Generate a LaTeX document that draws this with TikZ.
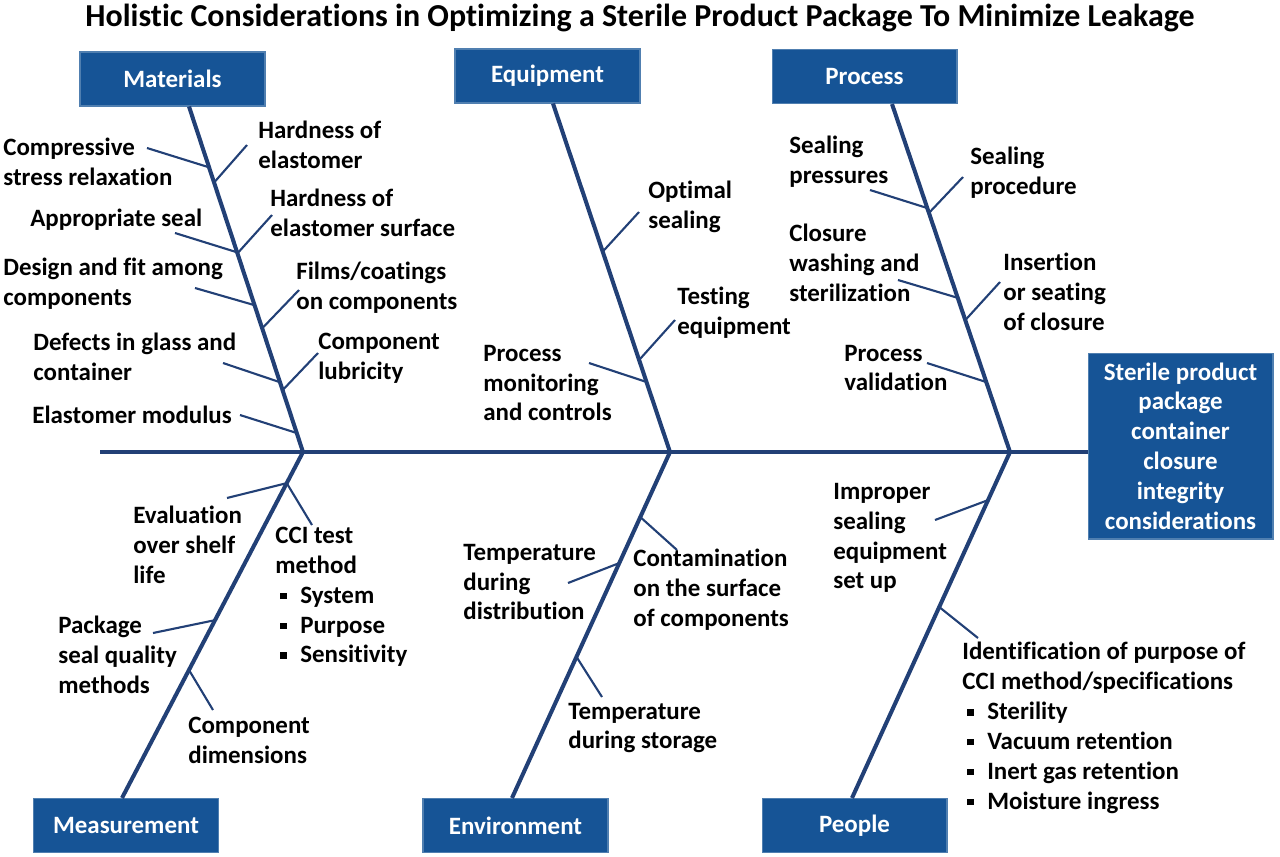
\documentclass[tikz,border=0pt]{standalone}
\usepackage{fontspec}
\setmainfont[Ligatures=NoCommon]{Carlito}
\usetikzlibrary{calc}
\definecolor{boxblue}{RGB}{22,84,150}
\definecolor{bonenavy}{RGB}{34,64,118}
\newcommand{\sqb}{\hspace*{2.8pt}\rule[2.4pt]{3.6pt}{3.6pt}\hspace*{7.8pt}}

\begin{document}
\begin{tikzpicture}[x=0.02cm,y=-0.02cm,
		every node/.style={font=\bfseries\fontsize{14.2}{17}\selectfont},
		catbox/.style={draw=boxblue!75!white, line width=0.6pt, fill=boxblue, text=white,
			minimum width=3.7cm, minimum height=1.08cm, inner sep=0pt},
		cause/.style={anchor=west, align=left, inner sep=0pt},
		bone/.style={draw=bonenavy, line width=2.3pt},
		twig/.style={draw=bonenavy, line width=1.2pt}]
		\useasboundingbox (0,0) rectangle (1280,856);

		% Заголовок
		\node (title) at (640,18) {\fontsize{18.2}{21}\selectfont Holistic Considerations in Optimizing a Sterile Product Package To Minimize Leakage};

		% Категории
		\node[catbox] (mat) at (172.5,79) {Materials};
		\node[catbox] (equ) at (547.5,76) {Equipment};
		\node[catbox] (pro) at (864.5,76.5) {Process};
		\node[catbox] (mea) at (126,825.5) {Measurement};
		\node[catbox] (env) at (515.5,825.5) {Environment};
		\node[catbox] (peo) at (854.5,825.5) {People};
		\node[catbox, minimum height=3.72cm, align=center] (goal) at (1180.5,446)
			{Sterile product\\package\\container\\closure\\integrity\\considerations};

		% Хребет
		\coordinate (tail) at (100,452);
		\draw[bone] (tail) -- (tail -| goal.west);

		% Кости
		\coordinate (jm) at (303,452);
		\coordinate (je) at (670,452);
		\coordinate (jp) at (1010,452);
		\coordinate (mtop) at ($(mat.south)+(16.5,0)$);
		\coordinate (etop) at ($(equ.south)+(5.5,0)$);
		\coordinate (ptop) at ($(pro.south)+(27.5,0)$);
		\coordinate (sbot) at ($(mea.north)+(-4,0)$);
		\coordinate (vbot) at ($(env.north)+(-3.5,0)$);
		\coordinate (obot) at ($(peo.north)+(-2.5,0)$);
		\draw[bone] (mtop) -- (jm);
		\draw[bone] (etop) -- (je);
		\draw[bone] (ptop) -- (jp);
		\draw[bone] (jm) -- (sbot);
		\draw[bone] (je) -- (vbot);
		\draw[bone] (jp) -- (obot);

		% Веточки
		\foreach \n/\px/\py/\t in {m1/147/148/0.176, m2/247/145/0.220, m3/175/233/0.422,
				m4/272/215/0.425, m5/195/288/0.575, m6/299/290/0.642, m7/223/363/0.798,
				m8/318/353/0.821, m9/240/415/0.945} {
			\coordinate (\n) at (\px,\py);
			\draw[twig] (\n) -- ($(mtop)!\t!(jm)$);
		}
		\foreach \n/\px/\py/\t in {e1/639/212/0.425, e2/675/320/0.736, e3/589/363/0.799} {
			\coordinate (\n) at (\px,\py);
			\draw[twig] (\n) -- ($(etop)!\t!(je)$);
		}
		\foreach \n/\px/\py/\t in {p1/870/190/0.299, p2/963/177/0.313, p3/898/280/0.557,
				p4/1000/282/0.621, p5/927/363/0.799} {
			\coordinate (\n) at (\px,\py);
			\draw[twig] (\n) -- ($(ptop)!\t!(jp)$);
		}
		\foreach \n/\px/\py/\t in {s1/227/498/0.090, s2/312/525/0.090, s3/153/633/0.486,
				s4/213/710/0.630} {
			\coordinate (\n) at (\px,\py);
			\draw[twig] (\n) -- ($(jm)!\t!(sbot)$);
		}
		\foreach \n/\px/\py/\t in {v1/568/583/0.321, v2/677/550/0.188, v3/602/697/0.592} {
			\coordinate (\n) at (\px,\py);
			\draw[twig] (\n) -- ($(je)!\t!(vbot)$);
		}
		\foreach \n/\px/\py/\t in {o1/935/520/0.139, o2/978/638/0.448} {
			\coordinate (\n) at (\px,\py);
			\draw[twig] (\n) -- ($(jp)!\t!(obot)$);
		}

		% Materials
		\node[cause] (cm1) at (3,162) {Compressive\\stress relaxation};
		\node[cause] (cm2) at (258,145) {Hardness of\\elastomer};
		\node[cause] (cm3) at (30,220) {Appropriate seal};
		\node[cause] (cm4) at (270,213) {Hardness of\\elastomer surface};
		\node[cause] (cm5) at (3,284) {Design and fit among\\components};
		\node[cause] (cm6) at (296,288) {Films/coatings\\on components};
		\node[cause] (cm7) at (33,357) {Defects in glass and\\container};
		\node[cause] (cm8) at (318,358) {Component\\lubricity};
		\node[cause] (cm9) at (32,415) {Elastomer modulus};

		% Equipment
		\node[cause] (ce1) at (648,207) {Optimal\\sealing};
		\node[cause] (ce2) at (677,313) {Testing\\equipment};
		\node[cause] (ce3) at (483,383) {Process\\monitoring\\and controls};

		% Process
		\node[cause] (cp1) at (789,162) {Sealing\\pressures};
		\node[cause] (cp2) at (970,173) {Sealing\\procedure};
		\node[cause] (cp3) at (789,263) {Closure\\washing and\\sterilization};
		\node[cause] (cp4) at (1003,292) {Insertion\\or seating\\of closure};
		\node[cause] (cp5) at (844,368) {Process\\validation};

		% Measurement
		\node[cause] (cs1) at (133,545) {Evaluation\\over shelf\\life};
		\node[cause] (cs2) at (275,597) {CCI test\\method\\\sqb System\\\sqb Purpose\\\sqb Sensitivity};
		\node[cause] (cs3) at (58,655) {Package\\seal quality\\methods};
		\node[cause] (cs4) at (188,740) {Component\\dimensions};

		% Environment
		\node[cause] (cv1) at (463,582) {Temperature\\during\\distribution};
		\node[cause] (cv2) at (633,590) {Contamination\\on the surface\\of components};
		\node[cause] (cv3) at (568,728) {Temperature\\during storage};

		% People
		\node[cause] (co1) at (833,538) {Improper\\sealing\\equipment\\set up};
		\node[cause] (co2) at (962,728) {Identification of purpose of\\CCI method/specifications\\\sqb Sterility\\\sqb Vacuum retention\\\sqb Inert gas retention\\\sqb Moisture ingress};
	\end{tikzpicture}
\end{document}
